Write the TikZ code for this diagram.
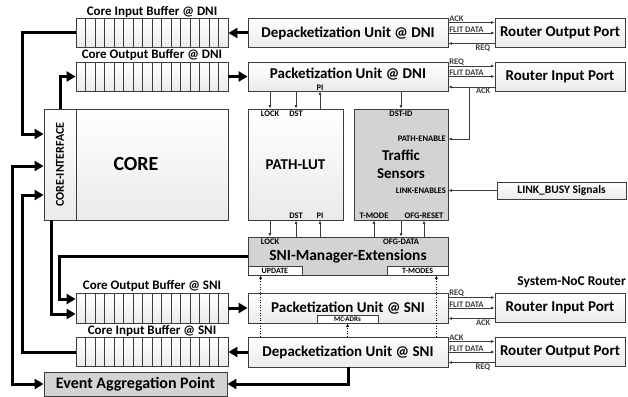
\documentclass[tikz,border=0pt]{standalone}
\usepackage{fontspec}
\setmainfont{Carlito}
\usepackage{xcolor}
\usepackage{tikz}
\usetikzlibrary{calc,arrows.meta,positioning}

\definecolor{edge}{HTML}{3C3C3C}
\definecolor{sensor}{HTML}{D3D3D3}

\begin{document}
\begin{tikzpicture}[x=1pt, y=-1pt, font=\bfseries,
    >={Triangle[length=9pt,width=10pt]},
    unit/.style={draw=edge, line width=0.8pt, top color=white, bottom color=gray!16,
      inner sep=0pt, minimum height=29pt, font=\fontsize{15}{16}\selectfont\bfseries},
    greybox/.style={unit, fill=sensor, top color=sensor, bottom color=sensor},
    slot/.style={draw=edge, line width=0.6pt, fill=white, inner sep=0pt,
      font=\fontsize{8}{8}\selectfont\bfseries},
    buffer/.style={unit, minimum width=152pt, path picture={
        \foreach \i in {1,...,15}
          \draw[edge, line width=0.5pt]
            ($(path picture bounding box.north west)!\i/16!(path picture bounding box.north east)$) --
            ($(path picture bounding box.south west)!\i/16!(path picture bounding box.south east)$);}},
    buftitle/.style={inner sep=0.5pt, font=\fontsize{13}{14}\selectfont\bfseries},
    pin/.style={inner sep=1pt, font=\fontsize{8.5}{9}\selectfont\bfseries},
    bus/.style={line width=3pt, ->},
    sig/.style={edge, line width=0.7pt, >={Latex[length=3.5pt,width=3pt]}, ->},
    dot/.style={line width=0.6pt, dotted, >={Latex[length=3.5pt,width=3pt]}, ->}]
  \useasboundingbox (0,0) rectangle (628,396);

  % DNI side: buffers, (de)packetization units, router ports
  \node[buffer] (cibdni) at (152,33) {};
  \node[buftitle, above=0pt of cibdni] (cibdnit) {Core Input Buffer @ DNI};
  \node[buffer] (cobdni) at (152,76.5) {};
  \node[buftitle, above=0pt of cobdni] (cobdnit) {Core Output Buffer @ DNI};
  \node[unit, minimum width=200pt] (depdni) at (348,33) {Depacketization Unit @ DNI};
  \node[unit, minimum width=200pt, text depth=7pt] (pkdni) at (348,76.5) {Packetization Unit @ DNI};
  \node[unit, minimum width=130pt] (rodni) at (560,33) {Router Output Port};
  \node[unit, minimum width=130pt] (ridni) at (560,76.5) {Router Input Port};

  % core, lookup table and sensors
  \node[unit, minimum width=184pt, minimum height=111pt, font=\fontsize{20}{22}\selectfont\bfseries] (core) at (136,164.5) {CORE};
  \node[unit, minimum width=32pt, minimum height=111pt] (ci) at (60,164.5) {};
  \node[rotate=90, inner sep=0pt, font=\fontsize{12}{12}\selectfont\bfseries] (citxt) at (ci) {CORE-INTERFACE};
  \node[unit, minimum width=95pt, minimum height=111pt, font=\fontsize{15}{16}\selectfont\bfseries] (lut) at (295.5,164.5) {PATH-LUT};
  \node[greybox, minimum width=94pt, minimum height=111pt, align=center, font=\fontsize{15}{18}\selectfont\bfseries] (ts) at (401,164.5) {Traffic\\Sensors};
  \node[unit, minimum width=129pt, minimum height=17pt, font=\fontsize{11.5}{12}\selectfont\bfseries] (busy) at (561.5,190.5) {LINK\_BUSY Signals};

  % SNI manager
  \node[greybox, minimum width=200pt, minimum height=38pt, font=\fontsize{15.5}{16}\selectfont\bfseries] (sni) at (348,256) {SNI-Manager-Extensions};
  \node[slot, minimum width=54pt, minimum height=9pt, anchor=south west] (upd) at (sni.south west) {UPDATE};
  \node[slot, minimum width=61pt, minimum height=9pt, anchor=south east] (tmodes) at (sni.south east) {T-MODES};

  % SNI side
  \node[buffer, minimum height=30pt] (cobsni) at (152,308) {};
  \node[buftitle, above=0pt of cobsni] (cobsnit) {Core Output Buffer @ SNI};
  \node[buffer, minimum height=29pt] (cibsni) at (152,352) {};
  \node[buftitle, above=0pt of cibsni] (cibsnit) {Core Input Buffer @ SNI};
  \node[unit, minimum width=200pt, minimum height=30pt] (pksni) at (348,308) {Packetization Unit @ SNI};
  \node[slot, minimum width=61pt, minimum height=8pt, anchor=south, font=\fontsize{7}{7}\selectfont\bfseries] (mcadr) at ([xshift=-0.5pt]pksni.south) {MC-ADRs};
  \node[unit, minimum width=200pt, minimum height=30pt] (depsni) at (348,352) {Depacketization Unit @ SNI};
  \node[unit, minimum width=130pt] (risni) at (560,308) {Router Input Port};
  \node[unit, minimum width=130pt] (rosni) at (560,352) {Router Output Port};
  \node[anchor=east, inner sep=0pt, font=\fontsize{13.5}{14}\selectfont\bfseries] (noc) at (626,282) {System-NoC Router};
  \node[greybox, minimum width=183pt, minimum height=24pt, font=\fontsize{16}{17}\selectfont\bfseries] (eap) at (135.5,384) {Event Aggregation Point};

  % port labels
  \node[pin, anchor=north] (lutlock) at (270,110) {LOCK};
  \node[pin, anchor=north] (lutdsti) at (296,110) {DST};
  \node[pin, anchor=south, inner sep=0.3pt] (pkpi) at (320,91) {PI};
  \node[pin, anchor=north] (tsdst) at (401,110) {DST-ID};
  \node[pin, anchor=east] (tspath) at (447,139) {PATH-ENABLE};
  \node[pin, anchor=east] (tslink) at (447,190.5) {LINK-ENABLES};
  \node[pin, anchor=south] (lutdsto) at (296,219.5) {DST};
  \node[pin, anchor=south] (lutpi) at (320,219.5) {PI};
  \node[pin, anchor=south] (tsmode) at (374,219.5) {T-MODE};
  \node[pin, anchor=south] (tsreset) at (424,219.5) {OFG-RESET};
  \node[pin, anchor=north] (snilock) at (270,237.5) {LOCK};
  \node[pin, anchor=north] (snidata) at (401,237.5) {OFG-DATA};

  % control signals
  \draw[sig] (pkdni.south -| lutlock) -- (lut.north -| lutlock);
  \draw[sig] (pkdni.south -| lutdsti) -- (lut.north -| lutdsti);
  \draw[sig] (lut.north -| pkpi) -- (pkdni.south -| pkpi);
  \draw[sig] (pkdni.south -| tsdst) -- (ts.north -| tsdst);
  \draw[sig] (lut.south -| snilock) -- (sni.north -| snilock);
  \draw[sig] (sni.north -| lutdsto) -- (lut.south -| lutdsto);
  \draw[sig] (sni.north -| lutpi) -- (lut.south -| lutpi);
  \draw[sig] (sni.north -| tsmode) -- (ts.south -| tsmode);
  \draw[sig] (ts.south -| snidata) -- (sni.north -| snidata);
  \draw[sig] (sni.north -| tsreset) -- (ts.south -| tsreset);
  \draw[sig] (busy.west) -- (busy.west -| ts.east);
  \coordinate (ackfork) at ([xshift=-25pt, yshift=-10.5pt]ridni.west);
  \draw[sig] (ackfork) |- (ts.east |- tspath);

  % handshake with the router ports
  \foreach \u/\r/\a/\b in {depdni/rodni/ACK/REQ, pkdni/ridni/REQ/ACK, pksni/risni/REQ/ACK, depsni/rosni/ACK/REQ} {
    \draw[sig] ([yshift=10.5pt]\u.east) -- ([yshift=10.5pt]\u.east -| \r.west)
      node[pin, pos=0, anchor=south west, inner sep=0.5pt] (\u-a) {\a};
    \draw[sig] (\u.east) -- (\r.west)
      node[pin, pos=0, anchor=south west, inner sep=0.5pt] (\u-f) {FLIT DATA};
    \draw[sig] ([yshift=-10.5pt]\r.west) -- ([yshift=-10.5pt]\r.west -| \u.east)
      node[pin, pos=0, anchor=north east, xshift=-3pt] (\u-b) {\b};
  }

  % dotted update paths
  \draw[dot] ([xshift=13pt]depsni.north west) -- ([xshift=13pt]depsni.north west |- upd.south);
  \draw[dot] ([xshift=-12pt]depsni.north east) -- ([xshift=-12pt]depsni.north east |- tmodes.south);
  \draw[dot] (depsni.north -| mcadr) -- (mcadr.south);

  % data paths
  \draw[bus] (depdni.west) -- (cibdni.east);
  \draw[bus] (cobdni.east) -- (pkdni.west);
  \draw[bus] (cibdni.west) -- ++(-53,0) |- ([yshift=30.5pt]ci.west);
  \draw[bus] (ci.north) |- (cobdni.west);
  \draw[bus, <->] (eap.west) -- ++(-31,0) |- ([yshift=-1.5pt]ci.west);
  \draw[bus] (cibsni.west) -- ++(-53,0) |- ([yshift=-30.5pt]ci.west);
  \draw[bus] ([xshift=-9pt]ci.south) |- ([yshift=-6pt]cobsni.west);
  \draw[bus] (sni.west) -- ++(-188,0) |- ([yshift=9pt]cobsni.west);
  \draw[bus] (cobsni.east) -- (pksni.west);
  \draw[bus] (depsni.west) -- (cibsni.east);
  \draw[bus] (depsni.south) |- (eap.east);
\end{tikzpicture}
\end{document}
